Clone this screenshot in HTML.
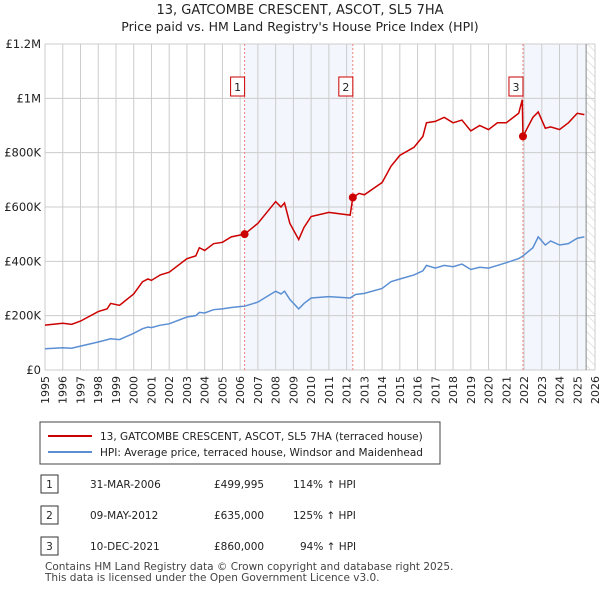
<!DOCTYPE html>
<html><head><meta charset="utf-8"><style>
body{margin:0;width:600px;height:590px;background:#fff;font-family:"Liberation Sans","DejaVu Sans",sans-serif;overflow:hidden}
svg text{font-family:"DejaVu Sans","Liberation Sans",sans-serif}
</style></head><body>
<svg id="chart" width="600" height="590" xmlns="http://www.w3.org/2000/svg">
<text x="300" y="14" text-anchor="middle" font-size="13" fill="#222">13, GATCOMBE CRESCENT, ASCOT, SL5 7HA</text>
<text x="300" y="31" text-anchor="middle" font-size="12.5" fill="#222">Price paid vs. HM Land Registry's House Price Index (HPI)</text>
<defs><pattern id="hatch" width="6" height="6" patternUnits="userSpaceOnUse" patternTransform="rotate(-45)"><line x1="0" y1="0" x2="0" y2="6" stroke="#ccc" stroke-width="1"/></pattern></defs>
<g id="plot"></g>
<rect x="40" y="422" width="400" height="42" fill="#fff" stroke="#444"/>
<line x1="48" y1="436" x2="92" y2="436" stroke="#cc0000" stroke-width="2"/>
<text x="100" y="440" font-size="10.5" fill="#222">13, GATCOMBE CRESCENT, ASCOT, SL5 7HA (terraced house)</text>
<line x1="48" y1="452" x2="92" y2="452" stroke="#5b8fd4" stroke-width="2"/>
<text x="100" y="456" font-size="10.5" fill="#222">HPI: Average price, terraced house, Windsor and Maidenhead</text>
<g font-size="10.5" fill="#222">
<rect x="41" y="475" width="17" height="18" fill="#fff" stroke="#333"/><text x="49.5" y="488" text-anchor="middle">1</text>
<text x="90" y="488">31-MAR-2006</text><text x="214" y="488">£499,995</text><text x="293" y="488">114% ↑ HPI</text>
<rect x="41" y="506" width="17" height="18" fill="#fff" stroke="#333"/><text x="49.5" y="519" text-anchor="middle">2</text>
<text x="90" y="519">09-MAY-2012</text><text x="214" y="519">£635,000</text><text x="293" y="519">125% ↑ HPI</text>
<rect x="41" y="537" width="17" height="18" fill="#fff" stroke="#333"/><text x="49.5" y="550" text-anchor="middle">3</text>
<text x="90" y="550">10-DEC-2021</text><text x="214" y="550">£860,000</text><text x="300" y="550">94% ↑ HPI</text>
</g>
<text x="45" y="570" font-size="10.5" fill="#444">Contains HM Land Registry data © Crown copyright and database right 2025.</text>
<text x="45" y="581" font-size="10.5" fill="#444">This data is licensed under the Open Government Licence v3.0.</text>
</svg>
<script>
const yTicks=[0,200000,400000,600000,800000,1000000,1200000];
const yTickLabels=["£0","£200K","£400K","£600K","£800K","£1M","£1.2M"];
const xYears=[1995,1996,1997,1998,1999,2000,2001,2002,2003,2004,2005,2006,2007,2008,2009,2010,2011,2012,2013,2014,2015,2016,2017,2018,2019,2020,2021,2022,2023,2024,2025,2026];
const saleDates=[2006.25,2012.35,2021.94];
const salePrices=[499995,635000,860000];
const saleLabels=["1","2","3"];
const hpiDates=[1995,1996,1996.5,1997,1998,1998.7,1999.2,2000,2000.5,2000.8,2001,2001.5,2002,2003,2003.5,2003.7,2004,2004.5,2005,2005.5,2006.25,2007,2007.5,2008,2008.3,2008.5,2008.8,2009.3,2009.6,2010,2011,2012.2,2012.5,2013,2014,2014.5,2015,2015.8,2016.3,2016.5,2017,2017.5,2018,2018.5,2019,2019.5,2020,2020.5,2021,2021.7,2021.94,2022.5,2022.8,2023.2,2023.5,2024,2024.5,2025,2025.4];
const hpiValues=[78000,82000,80000,88000,103000,115000,112000,135000,152000,158000,156000,165000,170000,195000,200000,212000,210000,222000,225000,230000,235000,250000,270000,290000,280000,290000,260000,225000,245000,265000,270000,265000,278000,282000,300000,325000,335000,350000,365000,385000,375000,385000,380000,390000,370000,378000,375000,385000,395000,410000,420000,450000,490000,460000,475000,460000,465000,485000,490000];
const propDates=[1995,1996,1996.5,1997,1998,1998.5,1998.7,1999.2,2000,2000.5,2000.8,2001,2001.5,2002,2003,2003.5,2003.7,2004,2004.5,2005,2005.5,2006.25,2007,2007.5,2008,2008.3,2008.5,2008.8,2009.3,2009.6,2010,2011,2012.2,2012.35,2012.7,2013,2014,2014.5,2015,2015.8,2016.3,2016.5,2017,2017.5,2018,2018.5,2019,2019.5,2020,2020.5,2021,2021.7,2021.9,2021.94,2022.5,2022.8,2023.2,2023.5,2024,2024.5,2025,2025.4];
const propValues=[165000,172000,168000,180000,215000,225000,245000,238000,280000,325000,335000,330000,350000,360000,410000,420000,450000,440000,465000,470000,490000,500000,540000,580000,620000,600000,615000,540000,480000,525000,565000,580000,570000,635000,650000,645000,690000,750000,790000,820000,860000,910000,915000,930000,910000,920000,880000,900000,885000,910000,910000,945000,995000,860000,930000,950000,890000,895000,885000,910000,945000,940000];
const X0=45,X1=595,Y0=370,Y1=44;
const xs=t=>X0+(t-1995)/(2026-1995)*(X1-X0);
const ys=v=>Y0-v/1200000*(Y0-Y1);
const NS="http://www.w3.org/2000/svg";
const g=document.getElementById('plot');
function mk(tag,attrs,parent){const e=document.createElementNS(NS,tag);for(const k in attrs)e.setAttribute(k,attrs[k]);(parent||g).appendChild(e);return e;}
// shaded bands
let r=mk('rect',{x:xs(saleDates[0]),y:Y1,width:xs(saleDates[1])-xs(saleDates[0]),height:Y0-Y1,fill:'#eef2fb',opacity:0.7});


r=mk('rect',{x:xs(saleDates[2]),y:Y1,width:xs(2025.5)-xs(saleDates[2]),height:Y0-Y1,fill:'#eef2fb',opacity:0.7});


r=mk('rect',{x:xs(2025.5),y:Y1,width:X1-xs(2025.5),height:Y0-Y1,fill:'url(#hatch)'});


// grid
xYears.forEach(y=>{const l=mk('line',{x1:xs(y),x2:xs(y),y1:Y1,y2:Y0,stroke:'#ccc','stroke-width':1});


const t=mk('text',{x:0,y:0,'font-size':11,fill:'#222','text-anchor':'end',transform:`translate(${xs(y)+4},${Y0+6}) rotate(-90)`});t.textContent=y;

});
yTicks.forEach((v,i)=>{const l=mk('line',{x1:X0,x2:X1,y1:ys(v),y2:ys(v),stroke:'#ccc','stroke-width':1});


const t=mk('text',{x:X0-4,y:ys(v)+4,'font-size':11.5,fill:'#222','text-anchor':'end'});t.textContent=yTickLabels[i];

});
let ax=mk('line',{x1:xs(2025.5),x2:xs(2025.5),y1:Y1,y2:Y0,stroke:'#888','stroke-width':1});


// sale lines & boxes
saleDates.forEach((d,i)=>{const l=mk('line',{x1:xs(d),x2:xs(d),y1:Y1,y2:Y0,stroke:'#f08080','stroke-width':1,'stroke-dasharray':'2,2'});


const b=mk('rect',{x:xs(d)-14,y:77,width:14,height:19,fill:'#fff',stroke:'#cc0000'});


const t=mk('text',{x:xs(d)-7,y:91,'font-size':11,fill:'#222','text-anchor':'middle'});t.textContent=saleLabels[i];

});
// lines
let p=mk('polyline',{points:hpiDates.map((d,i)=>xs(d)+','+ys(hpiValues[i])).join(' '),fill:'none',stroke:'#5b8fd4','stroke-width':1.5});


p=mk('polyline',{points:propDates.map((d,i)=>xs(d)+','+ys(propValues[i])).join(' '),fill:'none',stroke:'#cc0000','stroke-width':1.5});


saleDates.forEach((d,i)=>{const c=mk('circle',{cx:xs(d),cy:ys(salePrices[i]),r:4,fill:'#cc0000'});

});
</script>
</body></html>
